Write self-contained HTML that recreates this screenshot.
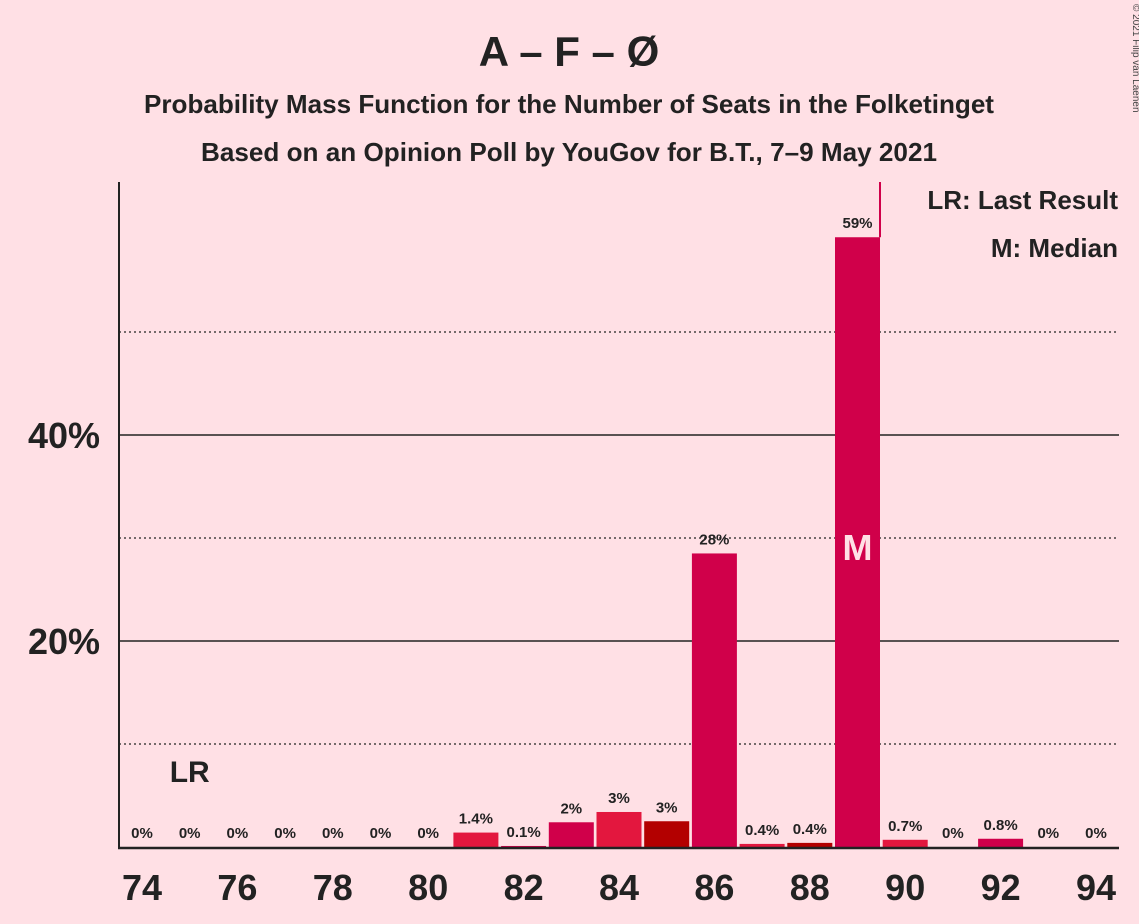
<!DOCTYPE html>
<html><head><meta charset="utf-8"><style>
body{margin:0;background:#FFE0E5;}
svg{display:block;font-family:"Liberation Sans",sans-serif;}
</style></head><body>
<svg id="c" width="1139" height="924">
<rect width="1139" height="924" fill="#FFE0E5"/>
<text x="569" y="66" text-anchor="middle" font-size="42" font-weight="bold" fill="#222">A – F – Ø</text>
<text x="569" y="113" text-anchor="middle" font-size="26" font-weight="bold" fill="#222" textLength="850" lengthAdjust="spacingAndGlyphs">Probability Mass Function for the Number of Seats in the Folketinget</text>
<text x="569" y="161" text-anchor="middle" font-size="26" font-weight="bold" fill="#222" textLength="736" lengthAdjust="spacingAndGlyphs">Based on an Opinion Poll by YouGov for B.T., 7–9 May 2021</text>
<text x="1133" y="4" transform="rotate(90 1133 4)" font-size="10" fill="#444">© 2021 Filip van Laenen</text>
<text x="1118" y="209" text-anchor="end" font-size="26" font-weight="bold" fill="#222">LR: Last Result</text>
<text x="1118" y="257" text-anchor="end" font-size="26" font-weight="bold" fill="#222">M: Median</text>
<g id="grid"></g><g id="bars"></g><g id="axes"></g>
</svg>
<script>
const seats=[74,75,76,77,78,79,80,81,82,83,84,85,86,87,88,89,90,91,92,93,94];
const probs=[0,0,0,0,0,0,0,1.4,0.1,2.4,3.4,2.5,28.5,0.3,0.4,59.2,0.7,0,0.8,0,0];
const valueLabels=["0%","0%","0%","0%","0%","0%","0%","1.4%","0.1%","2%","3%","3%","28%","0.4%","0.4%","59%","0.7%","0%","0.8%","0%","0%"];
const barColors=["#D0004A","#D0004A","#D0004A","#D0004A","#D0004A","#D0004A","#D0004A","#E3173E","#D0004A","#D0004A","#E3173E","#B30000","#D0004A","#E3173E","#B30000","#D0004A","#E3173E","#D0004A","#D0004A","#D0004A","#D0004A"];
const yTicks=[20,40];
const yMinor=[10,30,50];
const xTicks=[74,76,78,80,82,84,86,88,90,92,94];
const lastResult=75, median=89;
const NS="http://www.w3.org/2000/svg";
const x=s=>142+(s-74)*47.7;
const y=v=>847-v*10.3;
function mk(t,a,p,txt){const e=document.createElementNS(NS,t);for(const k in a)e.setAttribute(k,a[k]);if(txt!==undefined)e.textContent=txt;p.appendChild(e);return e;}
const G=document.getElementById('grid'),B=document.getElementById('bars'),A=document.getElementById('axes');
yMinor.forEach(v=>{const l=mk('line',{x1:119,x2:1119,y1:y(v),y2:y(v),stroke:'#222','stroke-width':1.3,'stroke-dasharray':'2,3'},G);

});
yTicks.forEach(v=>{const l=mk('line',{x1:119,x2:1119,y1:y(v),y2:y(v),stroke:'#222','stroke-width':1.6},G);


const t=mk('text',{x:100,y:y(v)+13,'text-anchor':'end','font-size':36,'font-weight':'bold',fill:'#222'},A,v+'%');

});
seats.forEach((s,i)=>{const p=probs[i];
if(p>0){const r=mk('rect',{x:x(s)-22.5,y:y(p),width:45,height:847-y(p),fill:barColors[i]},B);

}
const t=mk('text',{x:x(s),y:y(p)-9,'text-anchor':'middle','font-size':15,'font-weight':'bold',fill:'#222'},B,valueLabels[i]);

});
const ml=mk('line',{x1:x(median)+22.5,x2:x(median)+22.5,y1:182,y2:y(probs[seats.indexOf(median)]),stroke:'#D0004A','stroke-width':2},B);


const mt=mk('text',{x:x(median),y:y(probs[seats.indexOf(median)]/2)+18,'text-anchor':'middle','font-size':36,'font-weight':'bold',fill:'#FFE0E5'},B,'M');


const lr=mk('text',{x:x(lastResult),y:782,'text-anchor':'middle','font-size':30,'font-weight':'bold',fill:'#222'},B,'LR');


const ya=mk('line',{x1:119,x2:119,y1:182,y2:848,stroke:'#222','stroke-width':2},A);


const xa=mk('line',{x1:118,x2:1119,y1:848,y2:848,stroke:'#222','stroke-width':2.5},A);


xTicks.forEach(s=>{const t=mk('text',{x:x(s),y:900,'text-anchor':'middle','font-size':36,'font-weight':'bold',fill:'#222'},A,s);

});
</script>
</body></html>
